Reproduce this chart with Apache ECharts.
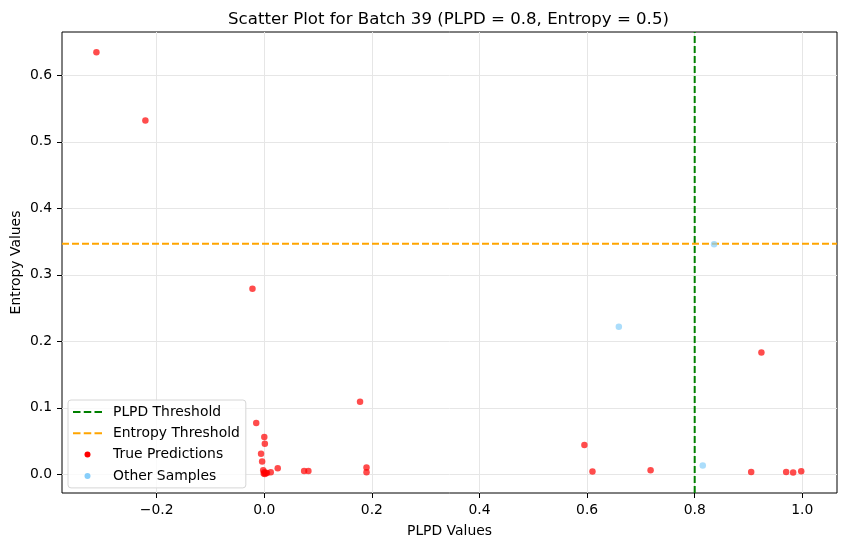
<!DOCTYPE html>
<html>
<head>
<meta charset="utf-8">
<script src="https://cdn.jsdelivr.net/npm/echarts@6/dist/echarts.min.js"></script>
<style>html,body{margin:0;padding:0;background:#fff;}#c{width:846px;height:547px;}</style>
</head>
<body>
<div id="c"></div>
<script>
// Data
const plpdThreshold = 0.8;
const entropyThreshold = 0.3466;
const xTicks = [-0.2, 0.0, 0.2, 0.4, 0.6, 0.8, 1.0];
const yTicks = [0.0, 0.1, 0.2, 0.3, 0.4, 0.5, 0.6];
const xRange = [-0.376, 1.0645];
const yRange = [-0.0282, 0.6653];
const truePredPLPD = [-0.312, -0.221, -0.022, -0.015, 0.000, 0.001, -0.006, -0.004,
  0.000, -0.002, 0.003, 0.001, -0.001, 0.005, 0.012, 0.025, 0.074, 0.082,
  0.178, 0.190, 0.190, 0.595, 0.610, 0.718, 0.905, 0.924, 0.970, 0.983, 0.998];
const truePredEntropy = [0.635, 0.532, 0.279, 0.077, 0.056, 0.046, 0.031, 0.019,
  0.003, 0.006, 0.002, 0.0005, 0.001, 0.002, 0.003, 0.009, 0.005, 0.005,
  0.109, 0.010, 0.003, 0.044, 0.004, 0.006, 0.0035, 0.183, 0.0035, 0.0025, 0.0045];
const otherPLPD = [0.836, 0.659, 0.815];
const otherEntropy = [0.346, 0.222, 0.013];

const font = 'DejaVu Sans';
const fmt = v => (v < 0 ? '\u2212' + Math.abs(v).toFixed(1) : v.toFixed(1));
// legend icons: invisible bounding points keep the drawn shape at its intended size
const dashIcon = 'path://M0,0M29,14M0,6h7.5v2h-7.5zM10.75,6h7.5v2h-7.5zM21.5,6h7.5v2h-7.5z';
const dotIcon = 'path://M0,0M29,14M17.5,7a3,3 0 1,0 -6,0a3,3 0 1,0 6,0z';

const chart = echarts.init(document.getElementById('c'));
chart.setOption({
  animation: false,
  backgroundColor: '#fff',
  title: {
    text: 'Scatter Plot for Batch 39 (PLPD = 0.8, Entropy = 0.5)',
    left: 443.5, top: 6, textAlign: 'center',
    textStyle: {fontFamily: font, fontSize: 16.6, fontWeight: 'normal', color: '#000'}
  },
  grid: {left: 62, right: 9, top: 32, bottom: 54, outerBoundsMode: 'none', containLabel: false,
    show: true, borderColor: '#000', borderWidth: 1, backgroundColor: 'transparent'},
  legend: {
    orient: 'vertical', left: 68, top: 400,
    itemGap: 7.3, itemWidth: 29, itemHeight: 14,
    padding: [5, 6, 5, 5],
    backgroundColor: 'rgba(255,255,255,0.8)', borderColor: '#d6d6d6', borderWidth: 1, borderRadius: 3,
    textStyle: {fontFamily: font, fontSize: 13.9, color: '#000', padding: [0, 0, 0, 6]},
    data: [
      {name: 'PLPD Threshold', icon: dashIcon, itemStyle: {color: '#008000', opacity: 1}},
      {name: 'Entropy Threshold', icon: dashIcon, itemStyle: {color: '#FFA500', opacity: 1}},
      {name: 'True Predictions', icon: dotIcon, itemStyle: {color: 'red', opacity: 1}},
      {name: 'Other Samples', icon: dotIcon, itemStyle: {color: '#87CEFA', opacity: 1}}
    ]
  },
  xAxis: {
    type: 'value', min: xRange[0], max: xRange[1],
    name: 'PLPD Values', nameLocation: 'middle', nameGap: 31, nameMoveOverlap: false,
    nameTextStyle: {fontFamily: font, fontSize: 13.9, color: '#000'},
    axisLine: {show: false, onZero: false},
    axisTick: {show: true, length: 5, customValues: xTicks, lineStyle: {color: '#000'}},
    axisLabel: {customValues: xTicks, formatter: fmt, fontFamily: font, fontSize: 13.9, color: '#000', margin: 10},
    splitLine: {show: true, lineStyle: {color: '#e6e6e6', width: 1}}
  },
  yAxis: {
    type: 'value', min: yRange[0], max: yRange[1],
    name: 'Entropy Values', nameLocation: 'middle', nameGap: 39, nameMoveOverlap: false,
    nameTextStyle: {fontFamily: font, fontSize: 13.9, color: '#000'},
    axisLine: {show: false, onZero: false},
    axisTick: {show: true, length: 5, customValues: yTicks, lineStyle: {color: '#000'}},
    axisLabel: {customValues: yTicks, formatter: v => v.toFixed(1), fontFamily: font, fontSize: 13.9, color: '#000', margin: 10},
    splitLine: {show: true, lineStyle: {color: '#e6e6e6', width: 1}}
  },
  series: [
    {
      name: 'PLPD Threshold', type: 'line', symbol: 'none', silent: true,
      data: [[plpdThreshold, yRange[0]], [plpdThreshold, yRange[1]]],
      lineStyle: {color: '#008000', width: 2, type: [7, 3]}, itemStyle: {color: '#008000'}, z: 3
    },
    {
      name: 'Entropy Threshold', type: 'line', symbol: 'none', silent: true,
      data: [[xRange[0], entropyThreshold], [xRange[1], entropyThreshold]],
      lineStyle: {color: '#FFA500', width: 2, type: [7, 3]}, itemStyle: {color: '#FFA500'}, z: 3
    },
    {
      name: 'True Predictions', type: 'scatter', symbolSize: 6.5,
      data: truePredPLPD.map((x, i) => [x, truePredEntropy[i]]),
      itemStyle: {color: 'red', opacity: 0.7}, z: 4
    },
    {
      name: 'Other Samples', type: 'scatter', symbolSize: 6.5,
      data: otherPLPD.map((x, i) => [x, otherEntropy[i]]),
      itemStyle: {color: '#87CEFA', opacity: 0.7}, z: 4
    }
  ]
});
</script>
</body>
</html>
